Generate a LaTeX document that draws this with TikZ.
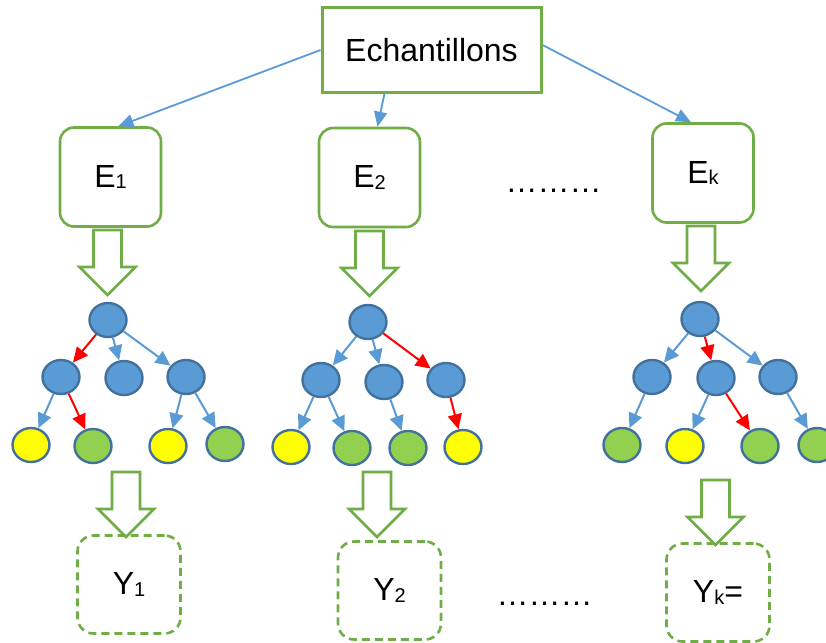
\documentclass[tikz,border=0pt]{standalone}
\usepackage{fontspec}
\setmainfont{Liberation Sans}
\usetikzlibrary{shapes.geometric,arrows.meta}
\definecolor{boxgreen}{HTML}{70AD47}
\definecolor{nodeblue}{HTML}{5B9BD5}
\definecolor{nodeedge}{HTML}{41719C}
\definecolor{leafgreen}{HTML}{92D050}
\definecolor{leafyellow}{HTML}{FFFF00}
\definecolor{edgered}{HTML}{FF0000}
\newcommand{\sbt}[1]{\raisebox{-1.5pt}{\fontsize{20}{20}\selectfont #1}}
\begin{document}
\begin{tikzpicture}[x=1pt,y=-1pt,
 txt/.style={font=\fontsize{32}{38}\selectfont},
 topbox/.style={draw=boxgreen,line width=3pt,minimum width=219pt,minimum height=84pt,inner sep=0pt,txt},
 ebox/.style={draw=boxgreen,line width=2.6pt,rounded corners=14pt,minimum width=101pt,minimum height=99pt,inner sep=0pt,txt},
 ybox/.style={draw=boxgreen,line width=2.6pt,dash pattern=on 8pt off 5pt,rounded corners=16pt,minimum width=103pt,minimum height=98pt,inner sep=0pt,txt},
 bnode/.style={ellipse,draw=nodeedge,fill=nodeblue,line width=2.4pt,minimum width=37pt,minimum height=34pt,inner sep=0pt},
 yleaf/.style={bnode,fill=leafyellow},
 gleaf/.style={bnode,fill=leafgreen},
 bedge/.style={draw=nodeblue,line width=2pt,-{Triangle[length=15pt,width=14pt]}},
 redge/.style={draw=edgered,line width=2pt,-{Triangle[length=15pt,width=14pt]}},
 tedge/.style={draw=nodeblue,line width=1.8pt,-{Triangle[length=15pt,width=13pt]}},
 bigarrow/.style={draw=boxgreen,line width=2.6pt,fill=white,line join=miter},
 dots/.style={txt,anchor=base,inner sep=0pt}
]
\useasboundingbox (0,0) rectangle (826,642);

% top box
\node[topbox] (top) at (431.5,50) {Echantillons};

% sample boxes
\node[ebox] (E1) at (110.5,177) {E\sbt{1}};
\node[ebox] (E2) at (369.5,177.5) {E\sbt{2}};
\node[ebox] (Ek) at (703,173) {E\sbt{k}};
\node[dots] (d1) at (553.5,192) {………};

\draw[tedge] (top.west) -- ([xshift=8pt]E1.north);
\draw[tedge] ([xshift=-47pt]top.south) -- ([xshift=8pt]E2.north);
\draw[tedge] ([yshift=5pt]top.east) -- ([xshift=-12pt]Ek.north);

% block arrows
\newcommand{\barrow}[2]{%
 \draw[bigarrow] (#1,#2) ++(-14,0) -- ++(28,0) -- ++(0,37) -- ++(14,0) -- ++(-28,28) -- ++(-28,-28) -- ++(14,0) -- cycle;}
\barrow{107.5}{230}
\barrow{369.5}{231}
\barrow{701}{226}
\barrow{126}{472}
\barrow{377}{472}
\barrow{715.5}{480}

% tree 1
\node[bnode] (r1) at (108,320) {};
\node[bnode] (a1) at (61,377) {};
\node[bnode] (b1) at (124,378) {};
\node[bnode] (c1) at (186,377) {};
\node[yleaf] (l11) at (31,445) {};
\node[gleaf] (l12) at (93,446) {};
\node[yleaf] (l13) at (168,446) {};
\node[gleaf] (l14) at (225,444) {};
\draw[redge] (r1) -- (a1);
\draw[bedge] (r1) -- (b1);
\draw[bedge] (r1) -- (c1);
\draw[bedge] (a1) -- (l11);
\draw[redge] (a1) -- (l12);
\draw[bedge] (c1) -- (l13);
\draw[bedge] (c1) -- (l14);

% tree 2
\node[bnode] (r2) at (368,322) {};
\node[bnode] (a2) at (321,380) {};
\node[bnode] (b2) at (384,382) {};
\node[bnode] (c2) at (446,380) {};
\node[yleaf] (l21) at (291,447) {};
\node[gleaf] (l22) at (352,448) {};
\node[gleaf] (l23) at (408,448) {};
\node[yleaf] (l24) at (463,447) {};
\draw[bedge] (r2) -- (a2);
\draw[bedge] (r2) -- (b2);
\draw[redge] (r2) -- (c2);
\draw[bedge] (a2) -- (l21);
\draw[bedge] (a2) -- (l22);
\draw[bedge] (b2) -- (l23);
\draw[redge] (c2) -- (l24);

% tree 3
\node[bnode] (r3) at (700,319) {};
\node[bnode] (a3) at (652,377) {};
\node[bnode] (b3) at (716,378) {};
\node[bnode] (c3) at (778,377) {};
\node[gleaf] (l31) at (622,445) {};
\node[yleaf] (l32) at (685,446) {};
\node[gleaf] (l33) at (760,446) {};
\node[gleaf] (l34) at (817,445) {};
\draw[bedge] (r3) -- (a3);
\draw[redge] (r3) -- (b3);
\draw[bedge] (r3) -- (c3);
\draw[bedge] (a3) -- (l31);
\draw[bedge] (b3) -- (l32);
\draw[redge] (b3) -- (l33);
\draw[bedge] (c3) -- (l34);

% result boxes
\node[ybox] (Y1) at (129,584.5) {Y\sbt{1}};
\node[ybox] (Y2) at (389.5,590.5) {Y\sbt{2}};
\node[ybox] (Yk) at (718,592.5) {Y\sbt{k}=};
\node[dots] (d2) at (544.5,605) {………};
\end{tikzpicture}
\end{document}
